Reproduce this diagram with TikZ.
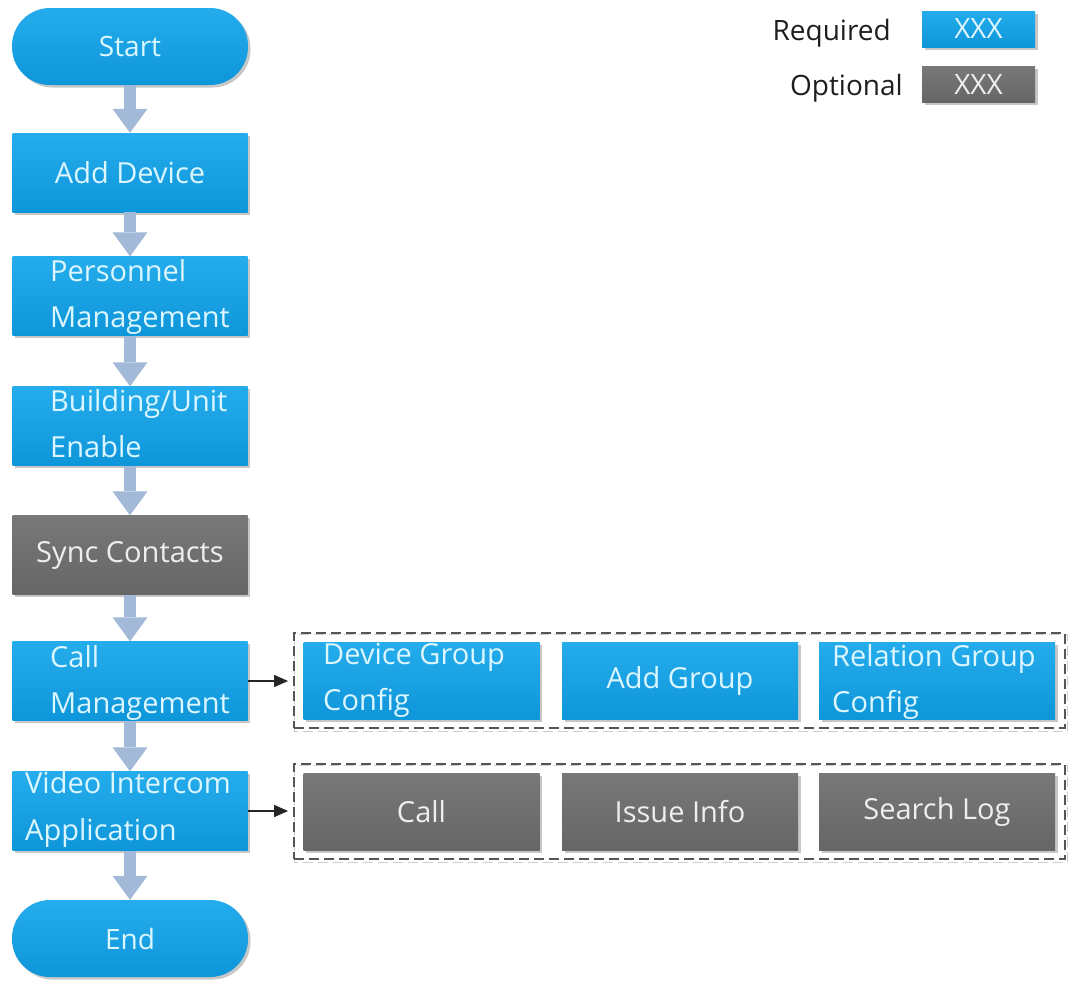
\documentclass[tikz,border=0pt]{standalone}
\usepackage{fontspec}
\setmainfont{Open Sans}
\usetikzlibrary{arrows.meta,shadows,backgrounds}
\definecolor{reqtop}{RGB}{36,172,236}
\definecolor{reqbot}{RGB}{14,150,218}
\definecolor{opttop}{RGB}{120,120,120}
\definecolor{optbot}{RGB}{102,102,102}
\definecolor{flowcol}{RGB}{163,185,216}
\definecolor{reqtext}{RGB}{220,246,255}
\definecolor{opttext}{RGB}{238,238,238}
\definecolor{dashcol}{RGB}{85,85,85}
\definecolor{dashshade}{RGB}{205,205,205}
\definecolor{labeltext}{RGB}{30,30,30}
\tikzset{
  boxshadow/.style={drop shadow={shadow xshift=2.5pt,shadow yshift=-2.5pt,fill=black,opacity=0.22}},
  basebox/.style={rectangle, inner sep=0pt, boxshadow, font=\fontsize{29}{46}\selectfont},
  reqbox/.style={basebox, top color=reqtop, bottom color=reqbot, text=reqtext},
  optbox/.style={basebox, top color=opttop, bottom color=optbot, text=opttext},
  colbox/.style={minimum width=235pt, minimum height=79pt},
  subbox/.style={minimum width=236pt, minimum height=77pt},
  pill/.style={reqbox, rounded corners=38pt, minimum width=236pt, minimum height=77pt, font=\fontsize{28}{30}\selectfont},
  boxtext/.style={anchor=base west, align=left, inner sep=0pt, text=reqtext, font=\fontsize{29}{46.5}\selectfont},
  flow/.style={draw=flowcol, line width=12.5pt, -{Triangle[width=35pt,length=24pt,line width=0pt]}},
  link/.style={draw=black!85, line width=1.4pt, -{Triangle[width=12pt,length=14pt]}, shorten >=5pt},
  groupbox/.style={rectangle, inner sep=0pt, draw=dashcol, line width=1.8pt, dash pattern=on 10pt off 5pt, minimum width=771pt, minimum height=95pt},
  groupshade/.style={draw=dashshade, line width=1.4pt, dash pattern=on 10pt off 5pt},
  legendtext/.style={anchor=base east, inner sep=0pt, text=labeltext, font=\fontsize{28}{30}\selectfont},
  keybox/.style={minimum width=113pt, minimum height=36pt, font=\fontsize{28}{30}\selectfont},
}
\begin{document}
\begin{tikzpicture}[x=1pt,y=-1pt]
\useasboundingbox (0,0) rectangle (1068,980);
% left column
\node[pill] (start) at (130,46.5) {Start};
\node[reqbox,colbox] (add) at (130,172.5) {Add Device};
\node[reqbox,colbox] (pm) at (130,296) {};
\node[reqbox,colbox] (bu) at (130,426) {};
\node[optbox,colbox] (sync) at (130,555) {Sync Contacts};
\node[reqbox,colbox] (call) at (130,681) {};
\node[reqbox,colbox] (video) at (130,811) {};
\node[pill] (end) at (130,938.5) {End};
\node[boxtext] (pm-t) at (50,327.5) {Personnel\\Management};
\node[boxtext] (bu-t) at (50,457.5) {Building/Unit\\Enable};
\node[boxtext] (call-t) at (50,713.5) {Call\\Management};
\node[boxtext] (video-t) at (25,840) {Video Intercom\\Application};
% groups
\node[groupbox] (grp1) at (679.5,680.5) {};
\node[groupbox] (grp2) at (679.5,811.5) {};
\begin{pgfonlayer}{background}
\draw[groupshade] ([shift={(1.5,2.5)}]grp1.north west) rectangle ([shift={(1.5,2.5)}]grp1.south east);
\draw[groupshade] ([shift={(1.5,2.5)}]grp2.north west) rectangle ([shift={(1.5,2.5)}]grp2.south east);
\end{pgfonlayer}
\node[reqbox,subbox] (dgc) at (421.5,680.5) {};
\node[boxtext] (dgc-t) at (323,710.5) {Device Group\\Config};
\node[reqbox,subbox] (ag) at (680,680.5) {Add Group};
\node[reqbox,subbox] (rgc) at (937,680.5) {};
\node[boxtext] (rgc-t) at (832,712.5) {Relation Group\\Config};
\node[optbox,subbox] (callx) at (421.5,811.5) {Call};
\node[optbox,subbox] (issue) at (680,811.5) {Issue Info};
\node[optbox,subbox] (search) at (937,811.5) {Search Log};
% connectors
\foreach \a/\b in {start/add,add/pm,pm/bu,bu/sync,sync/call,call/video,video/end}
  \draw[flow] (\a) -- (\b);
\draw[link] (call.east) -- (call.east -| grp1.west);
\draw[link] (video.east) -- (video.east -| grp2.west);
% legend
\node[legendtext] (req-l) at (891,40) {Required};
\node[reqbox,keybox] (req-k) at (978.5,29) {XXX};
\node[legendtext] (opt-l) at (903,95) {Optional};
\node[optbox,keybox] (opt-k) at (978.5,84.5) {XXX};
\end{tikzpicture}
\end{document}
